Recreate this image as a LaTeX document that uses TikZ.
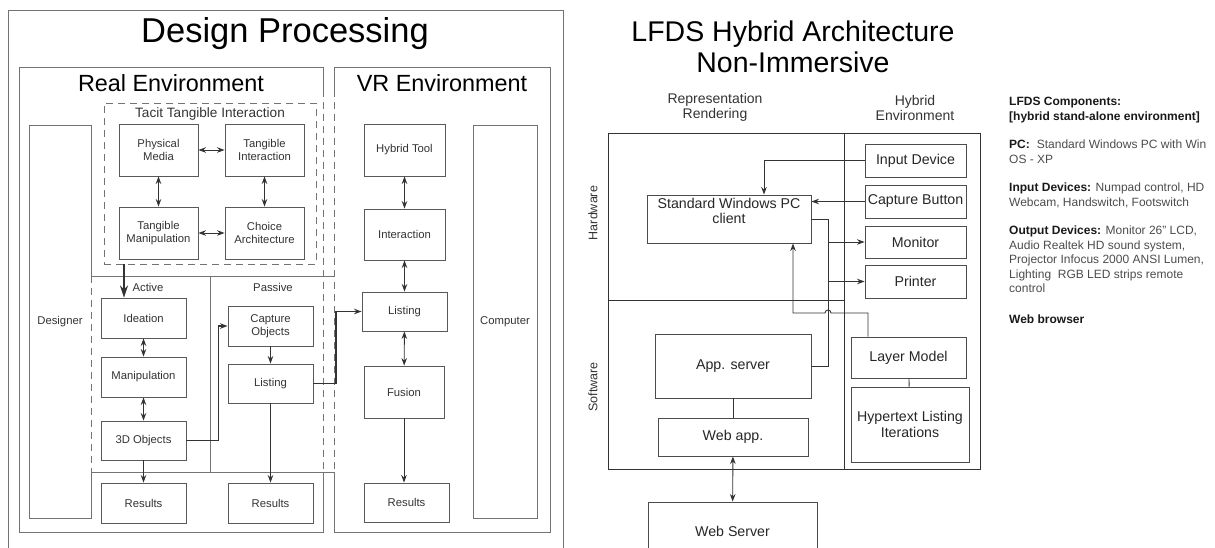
\documentclass[tikz,border=0pt]{standalone}
\usepackage{fontspec}
\setmainfont{Liberation Sans}
\usepackage{tikz}
\usetikzlibrary{arrows.meta}

\newcommand{\cmphead}[1]{\textcolor{black!90}{\textbf{#1}}}

\begin{document}
\begin{tikzpicture}[x=1pt, y=-1pt, >={Stealth[length=7.5pt,width=5.5pt]},
    frame/.style={draw=black!55, line width=1pt},
    dsh/.style={dash pattern=on 7pt off 5pt},
    box/.style={draw=black!65, line width=0.9pt, inner sep=1pt, align=center, text=black!80, font=\fontsize{11.3}{13.5}\selectfont},
    rbox/.style={draw=black!70, line width=0.9pt, inner sep=1pt, align=center, text=black!85, font=\fontsize{14.2}{16}\selectfont},
    lbl/.style={text=black!80, font=\fontsize{11.3}{13.5}\selectfont},
    link/.style={draw=black!80, line width=0.9pt}]
    \useasboundingbox (0,0) rectangle (1215,547);

    % Design Processing
    \draw[frame] (8,560) -- (8,10) -- (563,10) -- (563,560);
    \node (dp) at (285,34) [font=\fontsize{34.5}{38}\selectfont] {Design Processing};

    % Real / VR environments
    \draw[frame] (323,90) -- (323,67) -- (19,67) -- (19,532) -- (323,532) -- (323,472);
    \draw[frame, dsh] (323,90) -- (323,472);
    \draw[frame] (334,90) -- (334,67) -- (550,67) -- (550,532) -- (334,532) -- (334,472);
    \draw[frame, dsh] (334,90) -- (334,472);
    \node (re) at (171,83) [font=\fontsize{23.4}{26}\selectfont] {Real Environment};
    \node (ve) at (442,83) [font=\fontsize{23.4}{26}\selectfont] {VR Environment};

    % Designer and Computer
    \draw[frame] (91,276) -- (91,125) -- (29,125) -- (29,518) -- (91,518) -- (91,472);
    \draw[frame, dsh] (91,276) -- (91,472);
    \node (dsg) at (60,321.5) [lbl] {Designer};
    \node (cpu) at (505,321.5) [box, frame, minimum width=64, minimum height=393] {Computer};

    % Tacit Tangible Interaction
    \node (tacit) at (210,183.5) [draw=black!55, line width=0.9pt, dsh, minimum width=212, minimum height=161] {};
    \node (tti) at (210,114) [text=black!80, font=\fontsize{13.6}{15}\selectfont] {Tacit Tangible Interaction};
    \node (pm) at (158.5,150) [box, minimum width=79, minimum height=52] {Physical\\Media};
    \node (ti) at (264.5,150) [box, minimum width=79, minimum height=52] {Tangible\\Interaction};
    \node (tm) at (158.5,233) [box, minimum width=79, minimum height=52] {Tangible\\Manipulation};
    \node (ca) at (264.5,233) [box, minimum width=79, minimum height=52] {Choice\\Architecture};
    \draw[link, <->] (pm) -- (ti);
    \draw[link, <->] (pm) -- (tm);
    \draw[link, <->] (ti) -- (ca);
    \draw[link, <->] (tm) -- (ca);

    % Active / Passive
    \draw[frame] (91,276) -- (334,276);
    \draw[frame] (91,472) -- (334,472);
    \draw[frame] (210,276) -- (210,472);
    \node (act) at (148,287) [lbl] {Active};
    \node (pas) at (273,287) [lbl] {Passive};

    \node (ide) at (143.5,318) [box, minimum width=85, minimum height=40] {Ideation};
    \node (man) at (143.5,377) [box, minimum width=85, minimum height=40] {Manipulation};
    \node (obj) at (143.5,440.5) [box, minimum width=85, minimum height=39] {3D Objects};
    \node (resa) at (143.5,503) [box, minimum width=85, minimum height=40] {Results};
    \node (cap) at (270.5,326) [box, minimum width=85, minimum height=40] {Capture\\Objects};
    \node (lsp) at (270.5,383.5) [box, minimum width=85, minimum height=39] {Listing};
    \node (resp) at (270.5,503) [box, minimum width=85, minimum height=40] {Results};

    \coordinate (tt) at (124,264);
    \draw[link, line width=2.4pt, -{Stealth[length=12pt,width=8pt]}] (tt) -- (tt |- ide.north);
    \draw[link, <->] (ide) -- (man);
    \draw[link, <->] (man) -- (obj);
    \draw[link, ->] (obj) -- (resa);
    \draw[link, line width=1.3pt, ->] (obj.east) -- ++(32,0) |- (cap.west);
    \draw[link, ->] (cap) -- (lsp);
    \draw[link, ->] (lsp) -- (resp);

    % VR column
    \node (hyb) at (404.5,150) [box, minimum width=81, minimum height=52] {Hybrid Tool};
    \node (int) at (404.5,234.5) [box, minimum width=81, minimum height=51] {Interaction};
    \node (lsv) at (404.5,311.5) [box, minimum width=85, minimum height=39] {Listing};
    \node (fus) at (404,392) [box, minimum width=80, minimum height=52] {Fusion};
    \node (resv) at (406.5,502.5) [box, minimum width=85, minimum height=39] {Results};
    \draw[link, <->] (hyb) -- (int);
    \draw[link, <->] (int) -- (lsv);
    \draw[link, <->] (lsv) -- (fus);
    \draw[link, ->] (fus.south) -- (fus.south |- resv.north);
    \draw[link, line width=1.3pt, ->] (lsp.east) -- ++(22.5,0) |- (lsv.west);

    % LFDS Hybrid Architecture
    \node (lt) at (793,47) [align=center, font=\fontsize{28.5}{31}\selectfont] {LFDS Hybrid Architecture\\Non-Immersive};
    \node (rr) at (715,107.5) [align=center, text=black!80, font=\fontsize{14}{15}\selectfont] {Representation\\Rendering};
    \node (he) at (915,107.5) [align=center, text=black!80, font=\fontsize{14}{15}\selectfont] {Hybrid\\Environment};

    \draw[link] (608,133) rectangle (980,469);
    \draw[link] (844,133) -- (844,469);
    \draw[link] (608,300) -- (844,300);
    \node (hw) at (593,213) [rotate=90, text=black!80, font=\fontsize{12.5}{14}\selectfont] {Hardware};
    \node (sw) at (593,387) [rotate=90, text=black!80, font=\fontsize{12.5}{14}\selectfont] {Software};

    \node (inp) at (915.5,160.5) [rbox, minimum width=101, minimum height=33] {Input Device};
    \node (cbt) at (915.5,201.5) [rbox, minimum width=101, minimum height=33] {Capture Button};
    \node (mon) at (915.5,242) [rbox, minimum width=101, minimum height=32] {Monitor};
    \node (prn) at (915.5,281.5) [rbox, minimum width=101, minimum height=33] {Printer};
    \node (lay) at (908.5,357.5) [rbox, minimum width=115, minimum height=41] {Layer Model};
    \node (hyp) at (910,424.5) [rbox, minimum width=118, minimum height=75] {Hypertext Listing\\Iterations};

    \node (pc) at (729,219) [rbox, minimum width=164, minimum height=48] {};
    \node (pct) at (pc.north) [anchor=north, align=center, text=black!85, font=\fontsize{14.2}{15}\selectfont] {Standard Windows PC\\client};
    \node (app) at (733,366) [rbox, minimum width=156, minimum height=64] {App. server};
    \node (wap) at (733,437) [rbox, minimum width=150, minimum height=38] {Web app.};
    \node (wsv) at (732.5,531) [rbox, minimum width=169, minimum height=58] {Web Server};

    \draw[link, ->] (inp.west) -| ([xshift=35pt]pc.north);
    \draw[link, ->] (cbt.west) -- (cbt.west -| pc.east);
    \coordinate (jn) at ([xshift=17pt]pc.east);
    \draw[link, ->] (pc.east) -- (jn) |- (mon.west);
    \draw[link, ->] (jn) |- (prn.west);
    \draw[link] (app.east) -| (jn);
    \coordinate (hop) at (831,313);
    \draw[link, ->] ([xshift=-40.5pt]lay.north) |- (hop) arc[start angle=0, end angle=180, radius=3pt] -| ([xshift=64pt]pc.south);
    \draw[link] (lay) -- (hyp);
    \draw[link] (app) -- (wap);
    \draw[link, <->] (wap) -- (wsv);

    % Components list
    \node (cmp) at (1009,97) [anchor=north west, inner sep=0, align=left, text=black!70, font=\fontsize{12}{14.5}\selectfont] {%
        \cmphead{LFDS Components:}\\
        \cmphead{[hybrid stand-alone environment]}\\[14pt]
        \cmphead{PC:}\hspace{7pt}Standard Windows PC with Win\\
        OS - XP\\[14pt]
        \cmphead{Input Devices:} Numpad control, HD\\
        Webcam, Handswitch, Footswitch\\[14pt]
        \cmphead{Output Devices:} Monitor 26" LCD,\\
        Audio Realtek HD sound system,\\
        Projector Infocus 2000 ANSI Lumen,\\
        Lighting\ \ RGB LED strips remote\\
        control\\[16.5pt]
        \cmphead{Web browser}};
\end{tikzpicture}
\end{document}
